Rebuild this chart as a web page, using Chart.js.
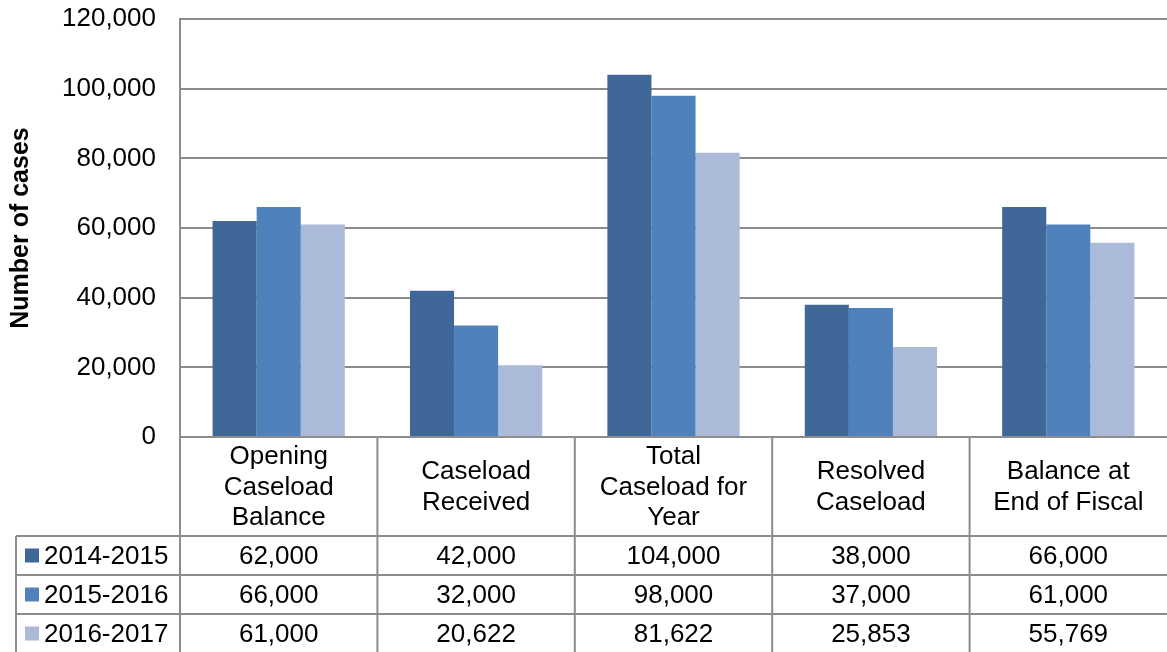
<!DOCTYPE html>
<html>
<head>
<meta charset="utf-8">
<script src="https://cdn.jsdelivr.net/npm/chart.js@4/dist/chart.umd.min.js"></script>
<style>
  html, body { margin: 0; padding: 0; background: #fff; }
  canvas { display: block; }
</style>
</head>
<body>
<canvas id="c" width="1167" height="652"></canvas>
<script>
// ---- Data ----
const categories = [
  ["Opening", "Caseload", "Balance"],
  ["Caseload", "Received"],
  ["Total", "Caseload for", "Year"],
  ["Resolved", "Caseload"],
  ["Balance at", "End of Fiscal"]
];
const seriesNames = ["2014-2015", "2015-2016", "2016-2017"];
const values2014 = [62000, 42000, 104000, 38000, 66000];
const values2015 = [66000, 32000, 98000, 37000, 61000];
const values2016 = [61000, 20622, 81622, 25853, 55769];
const yTicks = [0, 20000, 40000, 60000, 80000, 100000, 120000];
const yTitle = "Number of cases";

const seriesValues = [values2014, values2015, values2016];
const seriesColors = ["#3F6898", "#4F81BD", "#AABAD8"];
const FONT = "'Liberation Sans', Arial, sans-serif";
const LINE = "#8c8c8c";

const fmt = v => v.toLocaleString('en-US');

const tablePlugin = {
  id: 'dataTable',
  afterDraw(chart) {
    const ctx = chart.ctx;
    const xs = chart.scales.x;
    const area = chart.chartArea;
    const n = categories.length;
    const catW = (area.right - area.left) / n;
    const top = area.bottom;
    const headerBottom = top + 99;
    const rowH = 39;
    const tableLeft = 16;
    const W = chart.width;
    const H = chart.height;
    ctx.save();
    ctx.strokeStyle = LINE;
    ctx.lineWidth = 2;
    ctx.beginPath();
    ctx.moveTo(area.left, top); ctx.lineTo(W, top);
    for (let r = 0; r < seriesNames.length; r++) {
      const y = headerBottom + r * rowH;
      ctx.moveTo(tableLeft, y); ctx.lineTo(W, y);
    }
    ctx.moveTo(area.left, top); ctx.lineTo(area.left, H);
    ctx.moveTo(tableLeft, headerBottom); ctx.lineTo(tableLeft, H);
    for (let i = 0; i < n - 1; i++) {
      const x = xs.getPixelForValue(i) + catW / 2;
      ctx.moveTo(x, top); ctx.lineTo(x, H);
    }
    ctx.stroke();

    ctx.fillStyle = '#000';
    ctx.font = '26px ' + FONT;
    ctx.textAlign = 'center';
    ctx.textBaseline = 'middle';
    const lh = 30.5;
    const hc = (top + headerBottom) / 2 + 1;
    categories.forEach((lines, i) => {
      const cx = xs.getPixelForValue(i);
      const y0 = hc - (lines.length - 1) * lh / 2;
      lines.forEach((t, k) => ctx.fillText(t, cx, y0 + k * lh));
    });
    seriesNames.forEach((name, r) => {
      const cy = headerBottom + r * rowH + rowH / 2;
      ctx.fillStyle = seriesColors[r];
      ctx.fillRect(25, cy - 7, 14, 14);
      ctx.fillStyle = '#000';
      ctx.textAlign = 'left';
      ctx.fillText(name, 44, cy + 1);
      ctx.textAlign = 'center';
      seriesValues[r].forEach((v, i) => {
        ctx.fillText(fmt(v), xs.getPixelForValue(i), cy + 1);
      });
    });
    ctx.restore();
  }
};

new Chart(document.getElementById('c'), {
  type: 'bar',
  data: {
    labels: categories.map(c => c.join(' ')),
    datasets: seriesNames.map((name, i) => ({
      label: name,
      data: seriesValues[i],
      backgroundColor: seriesColors[i],
      borderWidth: 0,
      categoryPercentage: 0.67,
      barPercentage: 1.0
    }))
  },
  options: {
    responsive: false,
    animation: false,
    devicePixelRatio: 1,
    layout: { padding: { left: 0, right: 0, top: 0, bottom: 215 } },
    plugins: { legend: { display: false }, tooltip: { enabled: false } },
    scales: {
      x: { display: false },
      y: {
        min: 0, max: 120000,
        afterBuildTicks: s => { s.ticks = yTicks.map(v => ({ value: v })); },
        afterFit: s => { s.width = 180; s.paddingTop = 19; s.paddingBottom = 0; },
        ticks: {
          color: '#000',
          font: { family: FONT, size: 26 },
          padding: 24,
          callback: v => fmt(v)
        },
        grid: { color: LINE, lineWidth: 2, drawTicks: false },
        border: { display: true, color: LINE, width: 2 },
        title: {
          display: true,
          text: yTitle,
          color: '#000',
          font: { family: FONT, size: 25, weight: 'bold' },
          padding: { top: 6, bottom: 0 }
        }
      }
    }
  },
  plugins: [tablePlugin]
});
</script>
</body>
</html>
